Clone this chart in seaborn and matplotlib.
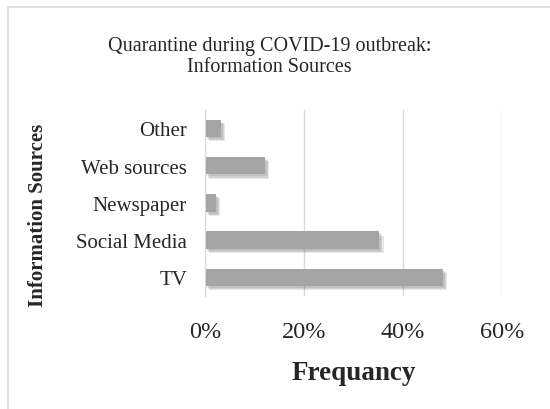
import matplotlib.pyplot as plt
import matplotlib.patheffects as pe
from matplotlib.patches import Rectangle
from matplotlib.ticker import PercentFormatter
import pandas as pd
import seaborn as sns

sources = ['Other', 'Web sources', 'Newspaper', 'Social Media', 'TV']
freq = [0.032, 0.121, 0.022, 0.352, 0.481]

df = pd.DataFrame({'Source': sources, 'Frequency': freq})

sns.set_style('white')
plt.rcParams['font.family'] = ['Liberation Serif', 'DejaVu Serif']

fig = plt.figure(figsize=(5.5, 4.1), dpi=100)
ax = fig.add_axes([0.373, 0.2756, 0.540, 0.454])

# outer chart frame
fig.patches.append(Rectangle((0.014, -0.02), 1.0, 1.0, transform=fig.transFigure,
                             facecolor='none', edgecolor='#d9d9d9', lw=1.2))

sns.barplot(data=df, x='Frequency', y='Source', orient='h', color='#a5a5a5',
            width=0.47, saturation=1, edgecolor='none', ax=ax)

# soft drop shadow
shadow = [pe.SimplePatchShadow(offset=(o, -o), shadow_rgbFace='#404040', alpha=0.12)
          for o in (3.0, 2.2, 1.4)]
for bar in ax.patches:
    bar.set_path_effects(shadow + [pe.Normal()])

ax.set_xlim(0, 0.6)
ax.set_xticks([0, 0.2, 0.4, 0.6])
ax.xaxis.set_major_formatter(PercentFormatter(1.0, decimals=0))
ax.grid(axis='x', color='#d9d9d9', lw=1)
ax.set_axisbelow(True)
for s in ['top', 'right', 'bottom']:
    ax.spines[s].set_visible(False)
ax.spines['left'].set_color('#d9d9d9')
ax.tick_params(axis='x', labelsize=17.5, length=0, pad=18)
ax.tick_params(axis='y', labelsize=15, length=0, pad=13)
ax.set_xlabel('Frequancy', fontsize=19.5, fontweight='bold', labelpad=13)
ax.set_ylabel('Information Sources', fontsize=15, fontweight='bold')
ax.yaxis.set_label_coords(-0.53, 0.44)

fig.text(0.49, 0.862, 'Quarantine during COVID-19 outbreak:\nInformation Sources',
         ha='center', va='center', fontsize=14.5, linespacing=1.15)

plt.savefig('out.png', dpi=100)
